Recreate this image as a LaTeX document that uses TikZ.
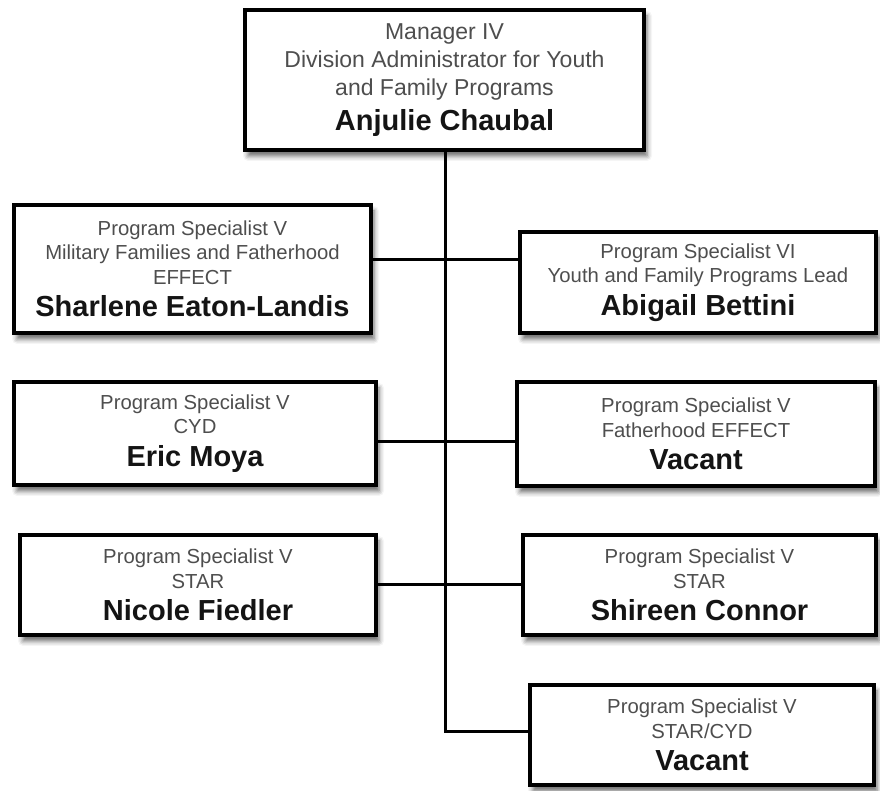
\documentclass[tikz,border=0pt]{standalone}
\usepackage{fontspec}
\setmainfont{Liberation Sans}
\usetikzlibrary{shadows.blur}
\definecolor{titlegray}{HTML}{4E4E4E}
\definecolor{namecol}{HTML}{141414}
\newcommand{\nm}[1]{{\fontsize{29}{32}\selectfont\bfseries\color{namecol}#1}}
\tikzset{
  posbox/.style={draw=black, line width=3.8pt, fill=white, inner sep=0pt,
    align=center, text=titlegray,
    font={\fontsize{20.3}{24.5}\selectfont\lineskiplimit=-100pt},
    blur shadow={shadow xshift=3pt, shadow yshift=-6pt, shadow blur radius=5pt, shadow opacity=60}},
  link/.style={draw=black, line width=3pt}
}
\begin{document}
\begin{tikzpicture}[x=1pt,y=1pt]
\useasboundingbox (0,0) rectangle (880,791);

\node[posbox, minimum width=399pt, minimum height=140pt,
  font={\fontsize{23}{28}\selectfont\lineskiplimit=-100pt}] (top) at (444.5,711)
  {Manager IV\\Division Administrator for Youth\\and Family Programs\\[7pt]\nm{Anjulie Chaubal}};

\node[posbox, minimum width=357pt, minimum height=128pt] (sharlene) at (192.5,522)
  {Program Specialist V\\Military Families and Fatherhood\\EFFECT\\[8pt]\nm{Sharlene Eaton-Landis}};

\node[posbox, minimum width=356pt, minimum height=101pt] (abigail) at (698,508.5)
  {Program Specialist VI\\Youth and Family Programs Lead\\[8pt]\nm{Abigail Bettini}};

\node[posbox, minimum width=362pt, minimum height=103pt] (eric) at (195,357.5)
  {Program Specialist V\\CYD\\[8pt]\nm{Eric Moya}};

\node[posbox, minimum width=358pt, minimum height=104pt] (vac1) at (696,357)
  {Program Specialist V\\Fatherhood EFFECT\\[8pt]\nm{Vacant}};

\node[posbox, minimum width=356pt, minimum height=100pt] (nicole) at (198,206)
  {Program Specialist V\\STAR\\[8pt]\nm{Nicole Fiedler}};

\node[posbox, minimum width=353pt, minimum height=100pt] (shireen) at (699.5,206)
  {Program Specialist V\\STAR\\[8pt]\nm{Shireen Connor}};

\node[posbox, minimum width=344pt, minimum height=100pt] (vac2) at (702,56)
  {Program Specialist V\\STAR/CYD\\[8pt]\nm{Vacant}};

\coordinate (r1) at (445,531);
\coordinate (r2) at (445,349);
\coordinate (r3) at (445,206);
\coordinate (r4) at (445,59);

\draw[link] (top.south -| r1) -- (r4) -- (r4 -| vac2.west);
\draw[link] (r1 -| sharlene.east) -- (r1 -| abigail.west);
\draw[link] (r2 -| eric.east) -- (r2 -| vac1.west);
\draw[link] (r3 -| nicole.east) -- (r3 -| shireen.west);
\end{tikzpicture}
\end{document}
